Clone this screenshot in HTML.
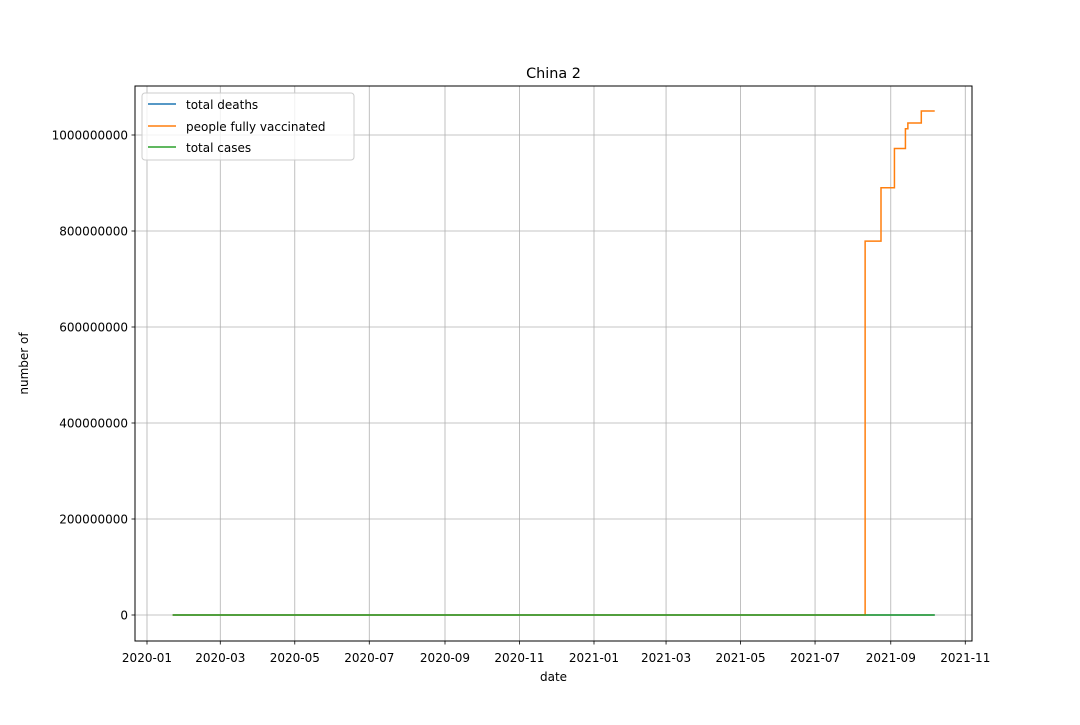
<!DOCTYPE html>
<html><head><meta charset="utf-8"><style>
body{margin:0;background:#fff;}
svg{font-family:"DejaVu Sans","Liberation Sans",sans-serif;}
</style></head><body>
<svg id="chart" width="1080" height="720" xmlns="http://www.w3.org/2000/svg">
<rect width="1080" height="720" fill="#fff"/>
<g id="grid"></g>
<g id="series"></g>
<rect x="135" y="86" width="837" height="555" fill="none" stroke="#000" stroke-width="1"/>
<g id="axes"></g>
<text x="553.5" y="78" text-anchor="middle" font-size="14.4">China 2</text>
<text x="553.5" y="681" text-anchor="middle" font-size="12">date</text>
<text x="28" y="363.5" text-anchor="middle" font-size="12" transform="rotate(-90 28 363.5)">number of</text>
<g>
<rect x="142" y="93" width="212" height="67" rx="3" fill="#fff" fill-opacity="0.8" stroke="#ccc"/>
<g><line x1="148" y1="104" x2="176" y2="104" stroke="#1f77b4" stroke-width="1.5"/><text x="186" y="109" font-size="12">total deaths</text></g>
<g><line x1="148" y1="126" x2="176" y2="126" stroke="#ff7f0e" stroke-width="1.5"/><text x="186" y="131" font-size="12">people fully vaccinated</text></g>
<g><line x1="148" y1="147" x2="176" y2="147" stroke="#2ca02c" stroke-width="1.5"/><text x="186" y="152" font-size="12">total cases</text></g>
</g>
</svg>
<script>
const xTickLabels=["2020-01","2020-03","2020-05","2020-07","2020-09","2020-11","2021-01","2021-03","2021-05","2021-07","2021-09","2021-11"];
const yTicks=[0,200000000,400000000,600000000,800000000,1000000000];
const seriesStart="2020-01-22";
const seriesEnd="2021-10-07";
const vaxDates=["2020-01-22","2021-08-11","2021-08-24","2021-09-04","2021-09-13","2021-09-15","2021-09-26"];
const vaxValues=[0,779000000,890000000,972000000,1013000000,1025000000,1050000000];
const deathValues=[0,0];
const caseValues=[0,0];

const NS="http://www.w3.org/2000/svg";
const d0=Date.UTC(2020,0,1);
function day(s){const p=s.split("-").map(Number);return (Date.UTC(p[0],p[1]-1,p[2]||1)-d0)/86400000;}
function X(s){return 147+day(s)*1.2213;}
function Y(v){return 615-v*0.48e-6;}
function mk(tag,attrs,parent){const e=document.createElementNS(NS,tag);for(const k in attrs)e.setAttribute(k,attrs[k]);parent.appendChild(e);return e;}
const grid=document.getElementById("grid"),axes=document.getElementById("axes"),ser=document.getElementById("series");
xTickLabels.forEach(l=>{const x=X(l);
 const g=mk("line",{x1:x,x2:x,y1:86,y2:641,stroke:"#b0b0b0","stroke-width":0.8},grid);
 
 
 mk("line",{x1:x,x2:x,y1:641,y2:644.5,stroke:"#000","stroke-width":0.8},axes);
 const t=mk("text",{x:x,y:662,"text-anchor":"middle","font-size":12},axes);t.textContent=l;
 
 
});
yTicks.forEach(v=>{const y=Y(v);
 const g=mk("line",{x1:135,x2:972,y1:y,y2:y,stroke:"#b0b0b0","stroke-width":0.8},grid);
 
 
 mk("line",{x1:131.5,x2:135,y1:y,y2:y,stroke:"#000","stroke-width":0.8},axes);
 const t=mk("text",{x:128,y:y+4.5,"text-anchor":"end","font-size":12},axes);t.textContent=String(v);
 
 
});
function flat(vals,color,name){
 const p=mk("polyline",{points:X(seriesStart)+","+Y(vals[0])+" "+X(seriesEnd)+","+Y(vals[1]),fill:"none",stroke:color,"stroke-width":1.5},ser);
 
 
}
flat(deathValues,"#1f77b4","total-deaths-line");
let pts=[];
for(let i=0;i<vaxDates.length;i++){
 const x=X(vaxDates[i]);
 if(i>0)pts.push(x+","+Y(vaxValues[i-1]));
 pts.push(x+","+Y(vaxValues[i]));
}
pts.push(X(seriesEnd)+","+Y(vaxValues[vaxValues.length-1]));
const vp=mk("polyline",{points:pts.join(" "),fill:"none",stroke:"#ff7f0e","stroke-width":1.5},ser);


flat(caseValues,"#2ca02c","total-cases-line");
</script>
</body></html>
